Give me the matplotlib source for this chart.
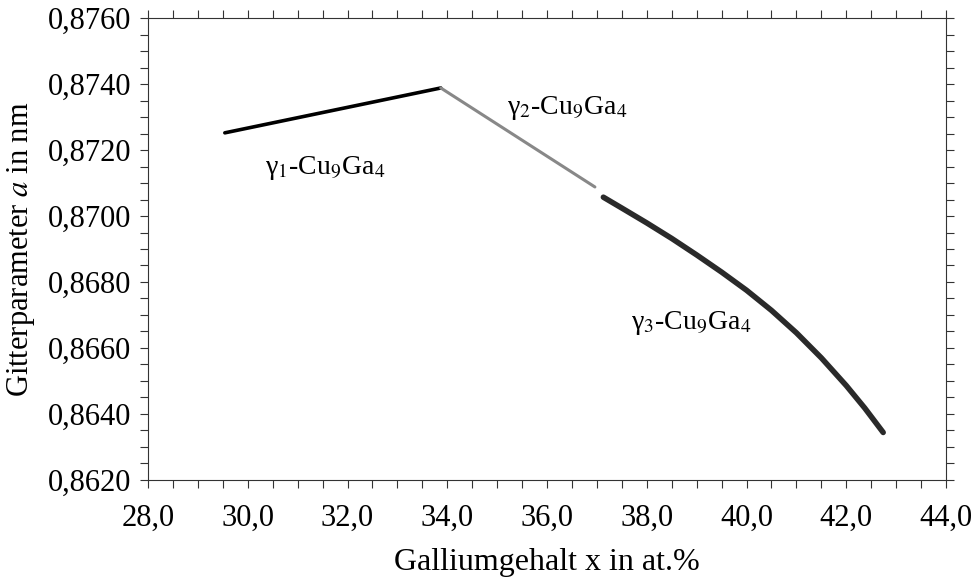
import matplotlib
matplotlib.use("Agg")
import matplotlib.pyplot as plt
from matplotlib.ticker import MultipleLocator, FuncFormatter

plt.rcParams['font.family'] = ['Liberation Serif', 'DejaVu Serif']
plt.rcParams['mathtext.fontset'] = 'stix'

# phase data
g1_x = [29.54, 33.87]
g1_y = [0.87252, 0.87388]
g2_x = [33.87, 36.96]
g2_y = [0.87388, 0.87088]
g3_x = [37.13, 37.5, 38.0, 38.5, 39.0, 39.5, 40.0, 40.5, 41.0, 41.5, 42.0, 42.37, 42.74]
g3_y = [0.87057, 0.87024, 0.86979, 0.86932, 0.86882, 0.86830, 0.86775, 0.86714,
        0.86646, 0.86570, 0.86486, 0.86418, 0.86344]

labels = ['γ$_1$-Cu$_9$Ga$_4$', 'γ$_2$-Cu$_9$Ga$_4$', 'γ$_3$-Cu$_9$Ga$_4$']
label_pos = [(31.55, 0.87145), (36.4, 0.87327), (38.9, 0.86676)]

fig = plt.figure(figsize=(9.77, 5.83), dpi=100)
ax = fig.add_axes([0.1515, 0.1767, 0.8168, 0.7924])

ax.plot(g1_x, g1_y, color='black', lw=2.6, solid_capstyle='round')
ax.plot(g2_x, g2_y, color='#888888', lw=2.2, solid_capstyle='round')
ax.plot(g3_x, g3_y, color='#2a2a2a', lw=4.0, solid_capstyle='round', solid_joinstyle='round')

for txt, (x, y) in zip(labels, label_pos):
    ax.text(x, y, txt, fontsize=20, ha='center', va='center')

ax.set_xlim(28, 44)
ax.set_ylim(0.862, 0.876)
ax.xaxis.set_major_locator(MultipleLocator(2))
ax.xaxis.set_minor_locator(MultipleLocator(0.5))
ax.yaxis.set_major_locator(MultipleLocator(0.002))
ax.yaxis.set_minor_locator(MultipleLocator(0.0005))
ax.xaxis.set_major_formatter(FuncFormatter(lambda v, p: f"{v:.1f}".replace('.', ',')))
ax.yaxis.set_major_formatter(FuncFormatter(lambda v, p: f"{v:.4f}".replace('.', ',')))

ax.tick_params(which='both', direction='out', top=True, right=True, labelsize=22,
               width=0.8, color='#333333', length=6)
ax.tick_params(axis='x', which='major', pad=11)
ax.tick_params(axis='y', which='major', pad=6)
for s in ax.spines.values():
    s.set_linewidth(0.8)
    s.set_color('#333333')

ax.set_xlabel('Galliumgehalt x in at.%', fontsize=23, labelpad=11)
ax.set_ylabel(r'Gitterparameter $a$ in nm', fontsize=22, labelpad=8)

fig.savefig('out.png', dpi=100)
